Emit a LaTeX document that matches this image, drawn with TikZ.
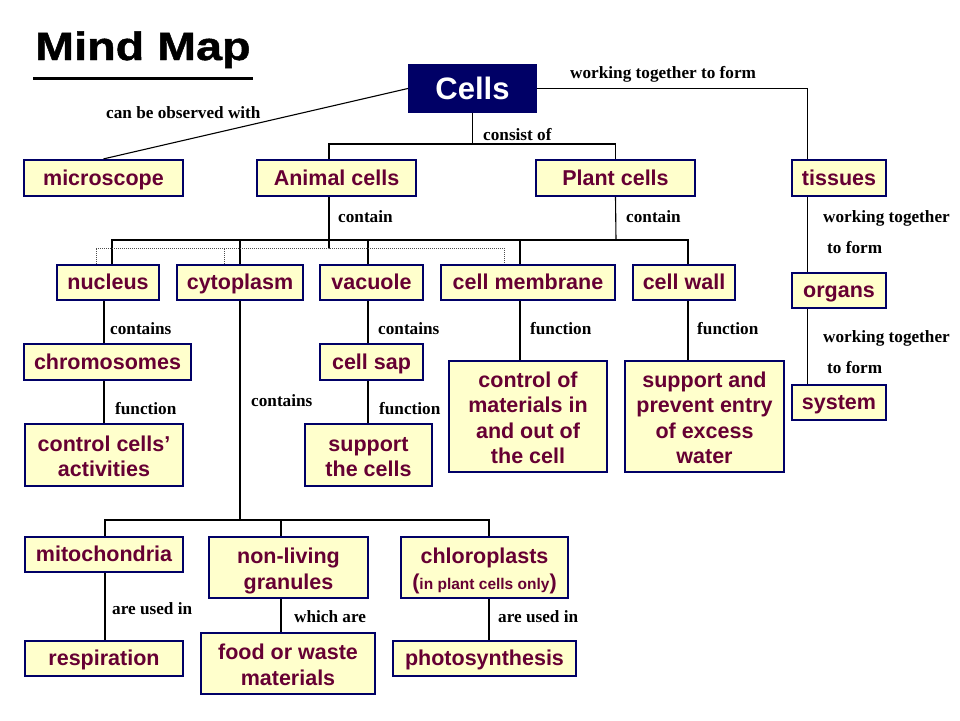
\documentclass[tikz,border=0pt]{standalone}
\usepackage{fontspec}
\setmainfont{Liberation Sans}
\newfontfamily\boxfam{Liberation Sans}
\newfontfamily\labfam{Liberation Serif}
\newfontfamily\titlefam{Liberation Sans}[FakeStretch=1.18,FakeBold=1.2]
\definecolor{navy}{HTML}{000066}
\definecolor{boxfill}{HTML}{FFFFCC}
\definecolor{maroon}{HTML}{660033}
\newcommand{\sst}{\rule[-4.6pt]{0pt}{24.1pt}}
\newcommand{\fst}{\rule[-4.6pt]{0pt}{27.6pt}}
\newcommand{\cst}{\rule[-6.6pt]{0pt}{34.6pt}}
\tikzset{
  box/.style={draw=navy, fill=boxfill, line width=2.2pt, text=maroon,
    font=\boxfam\bfseries\fontsize{21.5}{25.5}\selectfont, align=center, inner sep=0pt,
    execute at begin node={\sst}},
  lab/.style={anchor=base west, inner sep=0pt, text=black,
    font=\labfam\bfseries\fontsize{17.2}{20}\selectfont},
  conn/.style={draw=black, line width=1.1pt},
  dotconn/.style={draw=black!70, line width=0.9pt, dash pattern=on 1pt off 1pt}
}
\begin{document}
\begin{tikzpicture}[x=1pt,y=-1pt]
\useasboundingbox (0,0) rectangle (960,720);
\fill[white] (0,0) rectangle (960,720);

% title
\node[anchor=base west, inner sep=0pt, font=\titlefam\bfseries\fontsize{39.6}{44}\selectfont] (title) at (35,60) {Mind Map};
\draw[line width=2.8pt] ([xshift=-2pt,yshift=-18.3pt]title.base west) -- ([xshift=2pt,yshift=-18.3pt]title.base east);

% nodes
\node[box, fill=navy, text=white, font=\boxfam\bfseries\fontsize{31}{34}\selectfont,
      execute at begin node={\cst},
      minimum width=127, minimum height=47] (cells) at (472.5,88.5) {Cells};
\node[box, minimum width=159, minimum height=36] (microscope) at (103.5,178) {microscope};
\node[box, minimum width=159, minimum height=36] (animal) at (336.5,178) {Animal cells};
\node[box, minimum width=159, minimum height=36] (plant) at (615.5,178) {Plant cells};
\node[box, minimum width=94, minimum height=36] (tissues) at (839,178) {tissues};

\node[box, minimum width=102, minimum height=35] (nucleus) at (108,282.5) {nucleus};
\node[box, minimum width=126, minimum height=35] (cytoplasm) at (240,282.5) {cytoplasm};
\node[box, minimum width=103, minimum height=35] (vacuole) at (371.5,282.5) {vacuole};
\node[box, minimum width=174, minimum height=35] (cellmem) at (528,282.5) {cell membrane};
\node[box, minimum width=102, minimum height=35] (cellwall) at (684,282.5) {cell wall};
\node[box, minimum width=94, minimum height=35] (organs) at (839,290.5) {organs};

\node[box, minimum width=167, minimum height=36] (chromo) at (107.5,362) {chromosomes};
\node[box, minimum width=103, minimum height=36] (cellsap) at (371.5,362) {cell sap};
\node[box, minimum width=158, minimum height=111] (ctrlmat) at (528,416.5) {\fst control of\\\sst materials in\\\sst and out of\\\sst the cell};
\node[box, minimum width=159, minimum height=111] (support) at (704.5,416.5) {\fst support and\\\sst prevent entry\\\sst of excess\\\sst water};
\node[box, minimum width=94, minimum height=35] (system) at (839,402.5) {system};

\node[box, minimum width=158, minimum height=62] (ctrlcells) at (104,455) {\fst control cells’\\\sst activities};
\node[box, minimum width=127, minimum height=62] (supcells) at (368.5,455) {\fst support\\\sst the cells};

\node[box, minimum width=158, minimum height=35] (mito) at (104,554.5) {mitochondria};
\node[box, minimum width=159, minimum height=61] (nonliving) at (288.5,567.5) {\fst non-living\\\sst granules};
\node[box, minimum width=167, minimum height=61] (chloro) at (484.5,567.5) {\fst chloroplasts\\\sst({\fontsize{15.5}{18}\selectfont in plant cells only})};
\node[box, minimum width=158, minimum height=35] (resp) at (104,658.5) {respiration};
\node[box, minimum width=174, minimum height=61] (food) at (288,663.5) {\fst food or waste\\\sst materials};
\node[box, minimum width=183, minimum height=35] (photo) at (484.5,658.5) {photosynthesis};

% bus coordinates
\coordinate (bus1) at (472.5,144);
\coordinate (bus2) at (616,240);
\coordinate (bus3) at (329,248);
\coordinate (bus4) at (240,520);

% connectors from Cells
\draw[conn] (cells.west) -- (microscope.north);
\draw[conn] (cells.east) -| ([xshift=17pt]tissues.north west);
\draw[conn] (cells.south) -- (bus1);
\draw[conn] ([xshift=-7.5pt]animal.north) |- (bus1) -| (plant.north);

% plant cells contain (solid)
\draw[conn] (plant.south) -- (bus2);
\draw[conn] ([xshift=4pt]nucleus.north) |- (bus2) -| ([xshift=4pt]cellwall.north);
\draw[conn] (cytoplasm.north) -- (cytoplasm.north |- bus2);
\draw[conn] ([xshift=-3.5pt]vacuole.north) -- ([xshift=-3.5pt]vacuole.north |- bus2);
\draw[conn] ([xshift=-8pt]cellmem.north) -- ([xshift=-8pt]cellmem.north |- bus2);

% animal cells contain (dotted)
\draw[conn] ([xshift=-7.5pt]animal.south) -- (bus3);
\draw[dotconn] ([xshift=-12pt]nucleus.north) |- (bus3) -| ([xshift=-24pt]cellmem.north);
\draw[dotconn] ([xshift=-16pt]cytoplasm.north) -- ([xshift=-16pt]cytoplasm.north |- bus3);

% second level
\draw[conn] ([xshift=-4pt]nucleus.south) -- ([xshift=-3.5pt]chromo.north);
\draw[conn] ([xshift=-3.5pt]chromo.south) -- (ctrlcells.north);
\draw[conn] ([xshift=-3.5pt]vacuole.south) -- ([xshift=-3.5pt]cellsap.north);
\draw[conn] ([xshift=-3.5pt]cellsap.south) -- ([xshift=-0.5pt]supcells.north);
\draw[conn] ([xshift=-8pt]cellmem.south) -- ([xshift=-8pt]ctrlmat.north);
\draw[conn] ([xshift=4pt]cellwall.south) -- ([xshift=-16.5pt]support.north);
\draw[conn] ([xshift=17pt]tissues.south west) -- ([xshift=17pt]organs.north west);
\draw[conn] ([xshift=17pt]organs.south west) -- ([xshift=17pt]system.north west);

% cytoplasm contains
\draw[conn] (cytoplasm.south) -- (bus4);
\draw[conn] ([xshift=1pt]mito.north) |- (bus4) -| ([xshift=4.5pt]chloro.north);
\draw[conn] ([xshift=-7.5pt]nonliving.north) -- ([xshift=-7.5pt]nonliving.north |- bus4);
\draw[conn] ([xshift=1pt]mito.south) -- ([xshift=1pt]resp.north);
\draw[conn] ([xshift=-7.5pt]nonliving.south) -- ([xshift=-7pt]food.north);
\draw[conn] ([xshift=4.5pt]chloro.south) -- ([xshift=4.5pt]photo.north);

% labels
\node[lab] (l1) at (570,78) {working together to form};
\node[lab] (l2) at (106,118) {can be observed with};
\node[lab] (l3) at (483,140) {consist of};
\node[lab] (l4) at (338,222) {contain};
\node[lab] (l5) at (626,222) {contain};
\node[lab] (l6) at (823,222) {working together};
\node[lab] (l7) at (827,253) {to form};
\node[lab] (l8) at (110,334) {contains};
\node[lab] (l9) at (378,334) {contains};
\node[lab] (l10) at (530,334) {function};
\node[lab] (l11) at (697,334) {function};
\node[lab] (l12) at (823,342) {working together};
\node[lab] (l13) at (827,373) {to form};
\node[lab] (l14) at (115,414) {function};
\node[lab] (l15) at (251,406) {contains};
\node[lab] (l16) at (379,414) {function};
\node[lab] (l17) at (112,614) {are used in};
\node[lab] (l18) at (294,622) {which are};
\node[lab] (l19) at (498,622) {are used in};
\end{tikzpicture}
\end{document}
